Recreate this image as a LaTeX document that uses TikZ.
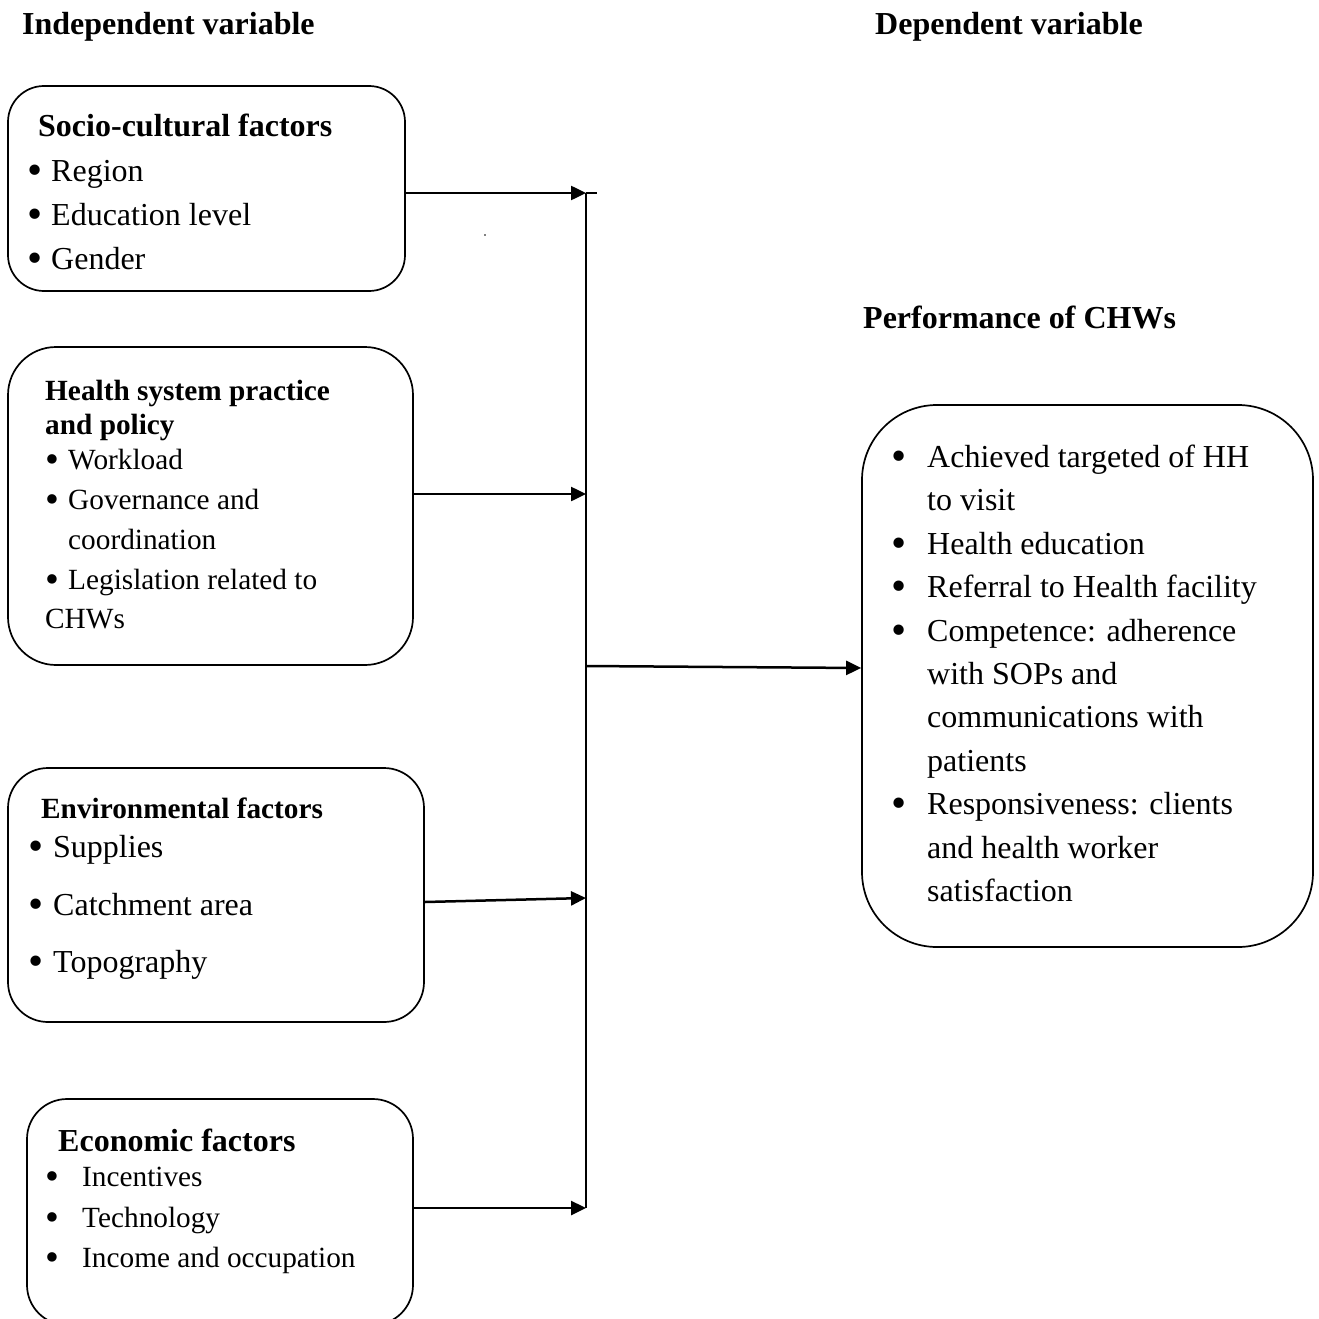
\documentclass[tikz,border=0pt]{standalone}
\usepackage{fontspec}
\setmainfont{Liberation Serif}
\usetikzlibrary{arrows.meta}
\newcommand{\bulw}[1]{\makebox[#1][l]{\raisebox{-0.12em}{\scalebox{1.35}{•}}}}
\begin{document}
\begin{tikzpicture}[x=1pt,y=-1pt,
  box/.style={draw, line width=1.7pt, rounded corners=#1, inner sep=0pt},
  txt/.style={anchor=base west, inner sep=0pt, font=\fontsize{32}{38}\selectfont},
  txs/.style={anchor=base west, inner sep=0pt, font=\fontsize{29.3}{35}\selectfont},
  hd/.style={anchor=base west, inner sep=0pt, font=\fontsize{32}{38}\selectfont\bfseries},
  hds/.style={anchor=base west, inner sep=0pt, font=\fontsize{29.3}{35}\selectfont\bfseries},
  arr/.style={line width=2.5pt, -{Triangle[length=15pt,width=14pt]}},
  bus/.style={line width=2.3pt}]
\useasboundingbox (0,0) rectangle (1319,1319);
% titles
\node[hd] (tInd) at (22,35) {Independent variable};
\node[hd] (tDep) at (875,35) {Dependent variable};
\node[hd] (tPerf) at (863,328) {Performance of CHWs};
% boxes
\node[box=36pt, minimum width=397pt, minimum height=205pt] (sc) at (206.5,188.5) {};
\node[box=48pt, minimum width=405pt, minimum height=318pt] (hs) at (210.5,506) {};
\node[box=40pt, minimum width=416pt, minimum height=254pt] (ev) at (216,895) {};
\node[box=40pt, minimum width=386pt, minimum height=226pt] (ec) at (220,1212) {};
\node[box=75pt, minimum width=451pt, minimum height=542pt] (pf) at (1087.5,676) {};
% socio-cultural
\node[hd] (sc0) at (38,136) {Socio-cultural factors};
\node[txt] (sc1) at (27,181) {\bulw{24pt}Region};
\node[txt] (sc2) at (27,225) {\bulw{24pt}Education level};
\node[txt] (sc3) at (27,269) {\bulw{24pt}Gender};
% health system
\node[hds] (hs0) at (45,400) {Health system practice};
\node[hds] (hs1) at (45,434) {and policy};
\node[txs] (hs2) at (45,469) {\bulw{23pt}Workload};
\node[txs] (hs3) at (45,509) {\bulw{23pt}Governance and};
\node[txs] (hs4) at (68,549) {coordination};
\node[txs] (hs5) at (45,589) {\bulw{23pt}Legislation related to};
\node[txs] (hs6) at (45,628) {CHWs};
% environmental
\node[hds] (ev0) at (41,818) {Environmental factors};
\node[txt] (ev1) at (28,857) {\bulw{25pt}Supplies};
\node[txt] (ev2) at (28,915) {\bulw{25pt}Catchment area};
\node[txt] (ev3) at (28,972) {\bulw{25pt}Topography};
% economic
\node[hd] (ec0) at (58,1151) {Economic factors};
\node[txs] (ec1) at (45,1186) {\bulw{37pt}Incentives};
\node[txs] (ec2) at (45,1227) {\bulw{37pt}Technology};
\node[txs] (ec3) at (45,1267) {\bulw{37pt}Income and occupation};
% performance
\node[txt] (pf1) at (891,467) {\bulw{36pt}Achieved targeted of HH};
\node[txt] (pf2) at (927,510) {to visit};
\node[txt] (pf3) at (891,554) {\bulw{36pt}Health education};
\node[txt] (pf4) at (891,597) {\bulw{36pt}Referral to Health facility};
\node[txt] (pf5) at (891,641) {\bulw{36pt}Competence: adherence};
\node[txt] (pf6) at (927,684) {with SOPs and};
\node[txt] (pf7) at (927,727) {communications with};
\node[txt] (pf8) at (927,771) {patients};
\node[txt] (pf9) at (891,814) {\bulw{36pt}Responsiveness: clients};
\node[txt] (pf10) at (927,858) {and health worker};
\node[txt] (pf11) at (927,901) {satisfaction};
% connectors
\coordinate (a1) at (586,193);
\coordinate (t1) at (597,193);
\coordinate (a2) at (586,494);
\coordinate (a3) at (586,898);
\coordinate (a4) at (586,1208);
\coordinate (m0) at (586,666);
\draw[bus] (a1) -- (t1);
\draw[bus] (a1) -- (a4);
\draw[arr] (sc.east |- a1) -- (a1);
\draw[arr] (hs.east |- a2) -- (a2);
\draw[arr] ([yshift=-7pt]ev.east) -- (a3);
\draw[arr] (ec.east |- a4) -- (a4);
\draw[arr] (m0) -- ([yshift=8pt]pf.west);
\fill (485,235) circle (0.8pt);
\end{tikzpicture}
\end{document}
